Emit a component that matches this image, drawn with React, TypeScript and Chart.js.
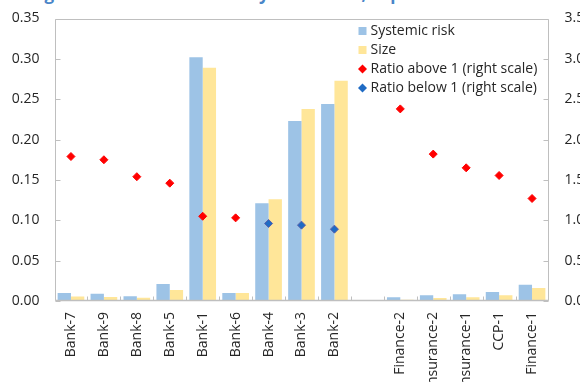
import React, { useEffect, useRef } from "react";
import { Chart, registerables } from "chart.js";

Chart.register(...registerables);

const categories = [
  "Bank-7", "Bank-9", "Bank-8", "Bank-5", "Bank-1", "Bank-6", "Bank-4", "Bank-3", "Bank-2",
  "",
  "Finance-2", "Insurance-2", "Insurance-1", "CCP-1", "Finance-1",
];
const systemicRisk = [0.010, 0.009, 0.006, 0.021, 0.302, 0.010, 0.121, 0.223, 0.244, null, 0.0045, 0.0072, 0.0083, 0.011, 0.020];
const sizeShare = [0.0055, 0.005, 0.004, 0.0136, 0.289, 0.010, 0.126, 0.238, 0.273, null, 0.0015, 0.0036, 0.0045, 0.007, 0.016];
const ratioAbove = [1.79, 1.75, 1.54, 1.46, 1.05, 1.03, null, null, null, null, 2.38, 1.82, 1.65, 1.555, 1.27];
const ratioBelow = [null, null, null, null, null, null, 0.96, 0.94, 0.89, null, null, null, null, null, null];
const legendLabels = ["Systemic risk", "Size", "Ratio above 1 (right scale)", "Ratio below 1 (right scale)"];
const titleText = "Figure 1: Contributions to systemic risk, September 2020";

const FONT = "'Open Sans', sans-serif";
const TEXT = "#262626";
const FRAME = "#BFBFBF";
const BLUE = "#9DC3E6";
const YELLOW = "#FFE699";
const RED = "#FF0000";
const DBLUE = "#1F6BC4";

const framePlugin = {
  id: "frameAndLegend",
  afterDatasetsDraw(chart: any) {
    const { ctx, chartArea: a, scales } = chart;
    ctx.save();
    ctx.strokeStyle = FRAME;
    ctx.lineWidth = 1;
    const L = Math.round(a.left) + 0.5;
    const R = Math.round(a.right) - 0.5;
    const T = Math.round(a.top) + 0.5;
    const B = Math.round(a.bottom) - 0.5;
    ctx.beginPath();
    ctx.rect(L, T, R - L, B - T);
    scales.y.ticks.forEach((t: any) => {
      const yy = Math.round(scales.y.getPixelForValue(t.value)) + 0.5;
      ctx.moveTo(L, yy);
      ctx.lineTo(L + 5, yy);
    });
    scales.y1.ticks.forEach((t: any) => {
      const yy = Math.round(scales.y1.getPixelForValue(t.value)) + 0.5;
      ctx.moveTo(R, yy);
      ctx.lineTo(R - 5, yy);
    });
    for (let i = 1; i < categories.length; i++) {
      const xx = Math.round(scales.x.getPixelForValue(i - 0.5)) + 0.5;
      ctx.moveTo(xx, B);
      ctx.lineTo(xx, B - 4);
    }
    ctx.stroke();
    ctx.beginPath();
    ctx.lineWidth = 1.5;
    ctx.moveTo(L, B);
    ctx.lineTo(R, B);
    ctx.stroke();

    // legend
    const lx = a.right - 190;
    const ly = a.top + 12.5;
    const step = 19;
    ctx.font = `14px ${FONT}`;
    ctx.textBaseline = "middle";
    ctx.textAlign = "left";
    const colors = [BLUE, YELLOW, RED, DBLUE];
    legendLabels.forEach((lab, i) => {
      const cy = ly + i * step;
      ctx.fillStyle = colors[i];
      if (i < 2) {
        ctx.fillRect(lx, cy - 4, 8, 8);
      } else {
        ctx.beginPath();
        ctx.moveTo(lx + 4, cy - 4.5);
        ctx.lineTo(lx + 8.5, cy);
        ctx.lineTo(lx + 4, cy + 4.5);
        ctx.lineTo(lx - 0.5, cy);
        ctx.closePath();
        ctx.fill();
      }
      ctx.fillStyle = TEXT;
      ctx.fillText(lab, lx + 12, cy);
    });
    ctx.restore();
  },
};

export default function App() {
  const ref = useRef<HTMLCanvasElement | null>(null);

  useEffect(() => {
    if (!ref.current) return;
    Chart.defaults.font.family = FONT;
    Chart.defaults.font.size = 14;
    Chart.defaults.color = TEXT;
    const chart = new Chart(ref.current, {
      type: "bar",
      data: {
        labels: categories,
        datasets: [
          {
            type: "line",
            label: legendLabels[2],
            data: ratioAbove as any,
            yAxisID: "y1",
            showLine: false,
            pointStyle: "rectRot",
            pointRadius: 4,
            pointBorderWidth: 1,
            backgroundColor: RED,
            borderColor: RED,
            order: 0,
          } as any,
          {
            type: "line",
            label: legendLabels[3],
            data: ratioBelow as any,
            yAxisID: "y1",
            showLine: false,
            pointStyle: "rectRot",
            pointRadius: 4,
            pointBorderWidth: 1,
            backgroundColor: DBLUE,
            borderColor: "#5B5FA8",
            order: 0,
          } as any,
          {
            label: legendLabels[0],
            data: systemicRisk as any,
            backgroundColor: BLUE,
            yAxisID: "y",
            categoryPercentage: 0.81,
            barPercentage: 1.0,
            order: 1,
          },
          {
            label: legendLabels[1],
            data: sizeShare as any,
            backgroundColor: YELLOW,
            yAxisID: "y",
            categoryPercentage: 0.81,
            barPercentage: 1.0,
            order: 1,
          },
        ],
      },
      options: {
        responsive: false,
        animation: false,
        devicePixelRatio: 1,
        layout: { padding: { top: 18.5, left: 0, right: 0, bottom: 0 } },
        plugins: {
          legend: { display: false },
          title: { display: false },
          tooltip: { enabled: false },
        },
        scales: {
          x: {
            type: "category",
            offset: true,
            grid: { display: false, drawTicks: false },
            border: { display: false },
            ticks: {
              autoSkip: false,
              minRotation: 90,
              maxRotation: 90,
              padding: 11,
              color: TEXT,
              font: { size: 14, family: FONT },
            },
            afterFit(s: any) {
              s.height = 81;
              s.paddingLeft = 0;
              s.paddingRight = 0;
            },
          },
          y: {
            position: "left",
            min: 0,
            max: 0.35,
            grid: { display: false, drawTicks: false },
            border: { display: false },
            ticks: {
              stepSize: 0.05,
              padding: 15,
              color: TEXT,
              font: { size: 14, family: FONT },
              callback: (v: any) => Number(v).toFixed(2),
            },
            afterFit(s: any) {
              s.width = 54.5;
              s.paddingTop = 0;
              s.paddingBottom = 0;
            },
          },
          y1: {
            position: "right",
            min: 0,
            max: 3.5,
            grid: { display: false, drawTicks: false },
            border: { display: false },
            ticks: {
              stepSize: 0.5,
              padding: 16,
              color: TEXT,
              font: { size: 14, family: FONT },
              callback: (v: any) => Number(v).toFixed(1),
            },
            afterFit(s: any) {
              s.width = 51.5;
              s.paddingTop = 0;
              s.paddingBottom = 0;
            },
          },
        },
      },
      plugins: [framePlugin],
    });
    return () => chart.destroy();
  }, []);

  return (
    <div
      style={{
        position: "fixed",
        left: 0,
        top: 0,
        width: 580,
        height: 382,
        overflow: "hidden",
        background: "#fff",
      }}
    >
      <div
        style={{
          position: "absolute",
          left: 30,
          top: -16,
          whiteSpace: "nowrap",
          fontFamily: FONT,
          fontWeight: 700,
          fontSize: 17,
          lineHeight: "20px",
          color: "#4A86C8",
        }}
      >
        {titleText}
      </div>
      <canvas
        ref={ref}
        width={600}
        height={382}
        style={{ position: "absolute", left: 0, top: 0, width: 600, height: 382 }}
      />
    </div>
  );
}
